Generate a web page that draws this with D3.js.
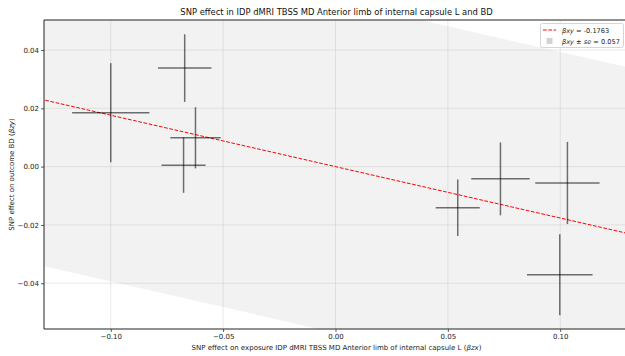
<!DOCTYPE html>
<html>
<head>
<meta charset="utf-8">
<script src="https://cdn.jsdelivr.net/npm/d3@7"></script>
<style>
  html, body { margin: 0; padding: 0; background: #fff; }
  svg { display: block; font-family: "DejaVu Sans", sans-serif; }
</style>
</head>
<body>
<svg id="chart" width="625" height="356"></svg>
<script>
// SNP-level effects: exposure (beta_zx) vs outcome (beta_zy) with standard errors
const snpBetaZX = [-0.1000, -0.0671, -0.0623, -0.0676, 0.0544, 0.0734, 0.1032, 0.0998];
const snpSeZX   = [0.0172, 0.0119, 0.0112, 0.0098, 0.0098, 0.0130, 0.0143, 0.0146];
const snpBetaZY = [0.0185, 0.0338, 0.0099, 0.0005, -0.0141, -0.0042, -0.0056, -0.0371];
const snpSeZY   = [0.0170, 0.0116, 0.0105, 0.0095, 0.0097, 0.0125, 0.0141, 0.0139];

// Causal estimate and its standard error
const betaXY = -0.1763;
const betaSE = 0.057;

const xTicks = [-0.10, -0.05, 0.00, 0.05, 0.10];
const yTicks = [-0.04, -0.02, 0.00, 0.02, 0.04];
const xDomain = [-0.1297, 0.1306];
const yDomain = [-0.0557, 0.0503];

const svg = d3.select("#chart");
const mLeft = 44, mTop = 20, mRight = 629, mBottom = 329;

const x = d3.scaleLinear().domain(xDomain).range([mLeft, mRight]);
const y = d3.scaleLinear().domain(yDomain).range([mBottom, mTop]);

svg.append("defs").append("clipPath").attr("id", "plotClip")
  .append("rect").attr("x", mLeft).attr("y", mTop)
  .attr("width", mRight - mLeft).attr("height", mBottom - mTop);

const plot = svg.append("g").attr("clip-path", "url(#plotClip)");

// Shaded band: beta_xy * x +/- se
const bandX = [xDomain[0] - 0.05, xDomain[1] + 0.05];
const band = d3.area()
  .x(d => x(d))
  .y0(d => y(betaXY * d - betaSE))
  .y1(d => y(betaXY * d + betaSE));
plot.append("path").datum(bandX)
  .attr("d", band)
  .attr("fill", "#f2f2f2");

// Grid
plot.append("g").selectAll("line").data(xTicks).join("line")
  .attr("x1", d => x(d)).attr("x2", d => x(d))
  .attr("y1", mTop).attr("y2", mBottom)
  .attr("stroke", "#b0b0b0").attr("stroke-opacity", 0.35).attr("stroke-width", 0.8);
plot.append("g").selectAll("line").data(yTicks).join("line")
  .attr("x1", mLeft).attr("x2", mRight)
  .attr("y1", d => y(d)).attr("y2", d => y(d))
  .attr("stroke", "#b0b0b0").attr("stroke-opacity", 0.35).attr("stroke-width", 0.8);

// Regression line through origin
const reg = d3.line().x(d => x(d)).y(d => y(betaXY * d));
plot.append("path").datum(bandX)
  .attr("d", reg)
  .attr("fill", "none")
  .attr("stroke", "#ff0000")
  .attr("stroke-width", 1)
  .attr("stroke-dasharray", "3.7,1.6");

// Error bars
const idx = d3.range(snpBetaZX.length);
const bars = plot.append("g");
bars.selectAll("line.h").data(idx).join("line").attr("class", "h")
  .attr("x1", i => x(snpBetaZX[i] - snpSeZX[i]))
  .attr("x2", i => x(snpBetaZX[i] + snpSeZX[i]))
  .attr("y1", i => y(snpBetaZY[i])).attr("y2", i => y(snpBetaZY[i]))
  .attr("stroke", "#000").attr("stroke-opacity", 0.55).attr("stroke-width", 1.5);
bars.selectAll("line.v").data(idx).join("line").attr("class", "v")
  .attr("x1", i => x(snpBetaZX[i])).attr("x2", i => x(snpBetaZX[i]))
  .attr("y1", i => y(snpBetaZY[i] - snpSeZY[i]))
  .attr("y2", i => y(snpBetaZY[i] + snpSeZY[i]))
  .attr("stroke", "#000").attr("stroke-opacity", 0.55).attr("stroke-width", 1.5);

// Axes
const fmt = d3.format(".2f");
const minus = s => s.replace("-", "\u2212");
const xAxis = svg.append("g").attr("transform", `translate(0,${mBottom})`)
  .call(d3.axisBottom(x).tickValues(xTicks).tickFormat(d => minus(fmt(d))).tickSize(3).tickPadding(2));
const yAxis = svg.append("g").attr("transform", `translate(${mLeft},0)`)
  .call(d3.axisLeft(y).tickValues(yTicks).tickFormat(d => minus(fmt(d))).tickSize(3).tickPadding(2));
[xAxis, yAxis].forEach(a => {
  a.select(".domain").remove();
  a.selectAll("text").attr("font-size", 7).attr("fill", "#222").attr("font-family", "DejaVu Sans, sans-serif");
  a.selectAll(".tick line").attr("stroke", "#333").attr("stroke-width", 0.8);
});

// Spines (left, top, bottom)
svg.append("line").attr("x1", mLeft).attr("x2", mLeft).attr("y1", mTop).attr("y2", mBottom)
  .attr("stroke", "#222").attr("stroke-width", 1);
svg.append("line").attr("x1", mLeft).attr("x2", 625).attr("y1", mTop).attr("y2", mTop)
  .attr("stroke", "#222").attr("stroke-width", 1);
svg.append("line").attr("x1", mLeft).attr("x2", 625).attr("y1", mBottom).attr("y2", mBottom)
  .attr("stroke", "#222").attr("stroke-width", 1);

// Title and axis labels
svg.append("text").attr("x", (mLeft + mRight) / 2).attr("y", 15)
  .attr("text-anchor", "middle").attr("font-size", 8.4).attr("fill", "#111")
  .text("SNP effect in IDP dMRI TBSS MD Anterior limb of internal capsule L and BD");

const xl = svg.append("text").attr("x", (mLeft + mRight) / 2).attr("y", 350)
  .attr("text-anchor", "middle").attr("font-size", 7).attr("fill", "#222");
xl.append("tspan").text("SNP effect on exposure IDP dMRI TBSS MD Anterior limb of internal capsule L (");
xl.append("tspan").attr("font-style", "italic").text("\u03b2zx");
xl.append("tspan").text(")");

const yl = svg.append("text")
  .attr("transform", `translate(14,${(mTop + mBottom) / 2}) rotate(-90)`)
  .attr("text-anchor", "middle").attr("font-size", 7).attr("fill", "#222");
yl.append("tspan").text("SNP effect on outcome BD (");
yl.append("tspan").attr("font-style", "italic").text("\u03b2zy");
yl.append("tspan").text(")");

// Legend
const lg = svg.append("g");
lg.append("rect").attr("x", 540.5).attr("y", 23.5).attr("width", 83).attr("height", 24)
  .attr("rx", 2).attr("fill", "#fff").attr("fill-opacity", 0.85)
  .attr("stroke", "#ccc").attr("stroke-width", 0.8);
lg.append("line").attr("x1", 543).attr("x2", 556).attr("y1", 30).attr("y2", 30)
  .attr("stroke", "#ff0000").attr("stroke-width", 1).attr("stroke-dasharray", "3.7,1.6");
lg.append("rect").attr("x", 546.5).attr("y", 38).attr("width", 6).attr("height", 6)
  .attr("fill", "#d3d3d3");
const t1 = lg.append("text").attr("x", 562).attr("y", 32.5).attr("font-size", 6.6).attr("fill", "#222");
t1.append("tspan").attr("font-style", "italic").text("\u03b2xy");
t1.append("tspan").text(" = " + betaXY.toFixed(4));
const t2 = lg.append("text").attr("x", 562).attr("y", 43.5).attr("font-size", 6.6).attr("fill", "#222");
t2.append("tspan").attr("font-style", "italic").text("\u03b2xy");
t2.append("tspan").text(" \u00b1 ");
t2.append("tspan").attr("font-style", "italic").text("se");
t2.append("tspan").text(" = " + betaSE.toFixed(3));
</script>
</body>
</html>
